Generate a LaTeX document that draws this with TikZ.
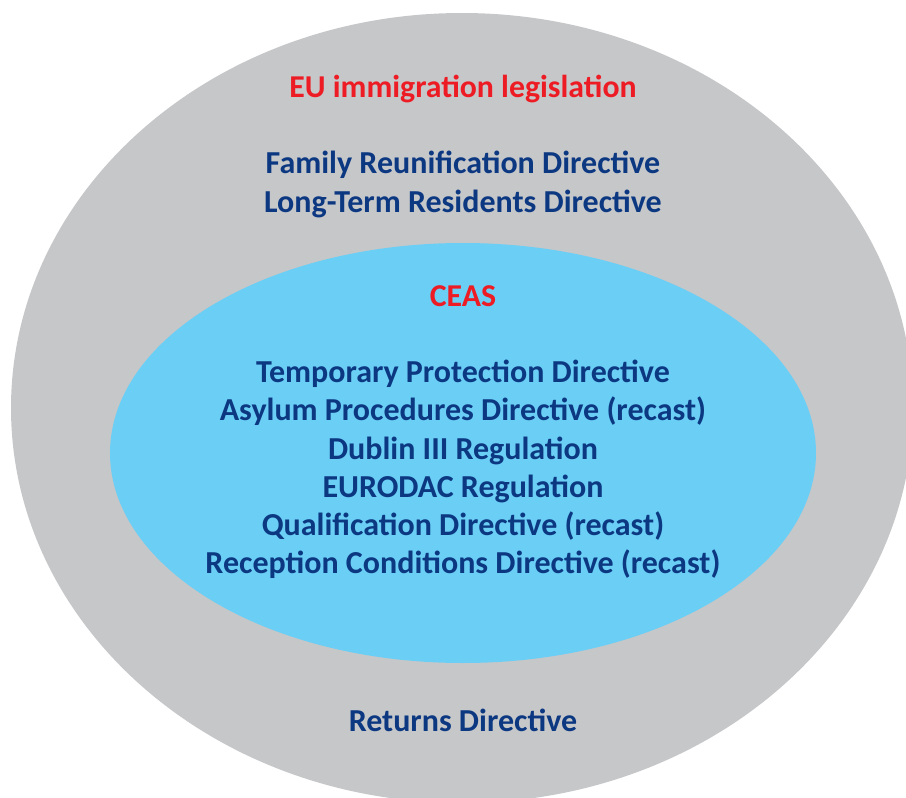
\documentclass[tikz,border=0pt]{standalone}
\usepackage{fontspec}
\setmainfont{Carlito}
\definecolor{outergray}{HTML}{C6C7C9}
\definecolor{innerblue}{HTML}{6ACEF5}
\definecolor{titlered}{HTML}{ED1C24}
\definecolor{navytext}{HTML}{0C3882}
\tikzset{
  redlabel/.style={anchor=base, text=titlered, font=\fontsize{31.8}{36}\selectfont\bfseries, inner sep=0pt},
  navylabel/.style={anchor=base, text=navytext, font=\fontsize{32}{36}\selectfont\bfseries, inner sep=0pt}
}
\begin{document}
\begin{tikzpicture}[x=1pt,y=-1pt]
\useasboundingbox (0,0) rectangle (906,798);
\begin{scope}
\clip (0,0) rectangle (906,798);
\fill[outergray] (462,408) ellipse [x radius=451, y radius=395];
\end{scope}
\fill[innerblue] (463,453) ellipse [x radius=353, y radius=210];
\node[redlabel] (eu) at (463,97) {EU immigration legislation};
\node[navylabel] (fam) at (463,173) {Family Reunification Directive};
\node[navylabel] (ltr) at (463,212) {Long-Term Residents Directive};
\node[redlabel] (ceas) at (463,306) {CEAS};
\node[navylabel] (tpd) at (463,382) {Temporary Protection Directive};
\node[navylabel] (apd) at (463,420) {Asylum Procedures Directive (recast)};
\node[navylabel] (dub) at (463,459) {Dublin III Regulation};
\node[navylabel] (eur) at (463,497) {EURODAC Regulation};
\node[navylabel] (qd) at (463,535) {Qualification Directive (recast)};
\node[navylabel] (rcd) at (463,573) {Reception Conditions Directive (recast)};
\node[navylabel] (ret) at (463,731) {Returns Directive};
\end{tikzpicture}
\end{document}
